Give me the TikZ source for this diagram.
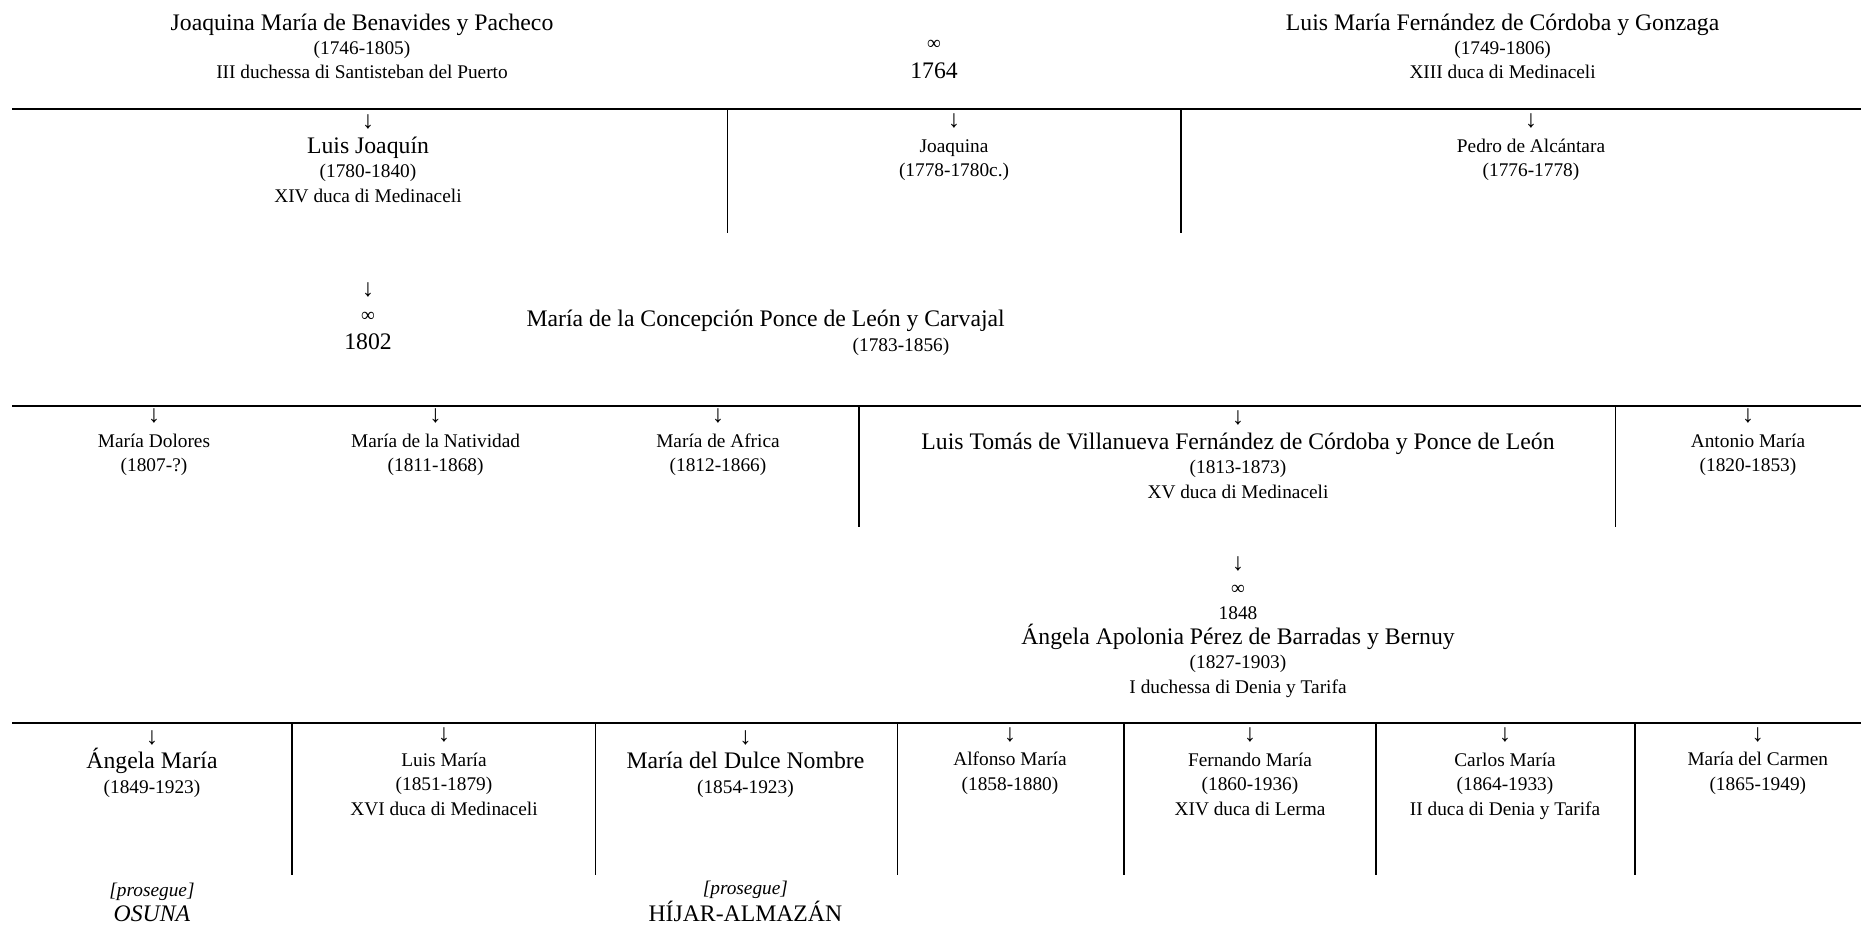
\documentclass[tikz,border=0pt]{standalone}
\usepackage{fontspec}
\setmainfont{Liberation Serif}
\newcommand{\grande}[1]{{\fontsize{13.5}{13.9}\selectfont #1}}
\newcommand{\giu}{{\fontsize{14}{13.9}\selectfont ↓}}

\begin{document}
\begin{tikzpicture}[x=0.02cm, y=-0.02cm]
    % Define styles (nodes sit on the baseline of their last line)
    \tikzstyle{person}=[align=center, inner sep=0pt, anchor=base, font=\fontsize{11}{13.9}\selectfont]
    \tikzstyle{hrule}=[line width=1.6pt]
    \tikzstyle{vrule}=[line width=1pt]

    \useasboundingbox (0,0) rectangle (1861,929);

    % Parents
    \node[person] (joaquina) at (362,79) {\grande{Joaquina María de Benavides y Pacheco}\\(1746-1805)\\III duchessa di Santisteban del Puerto};
    \node[person] (m1764) at (934,78.3) {∞\\[2.6pt]\grande{1764}};
    \node[person] (luismaria) at (1502.6,79) {\grande{Luis María Fernández de Córdoba y Gonzaga}\\(1749-1806)\\XIII duca di Medinaceli};

    % Children
    \draw[hrule] (12,109) -- (1861,109);
    \draw[vrule] (727.6,109) -- (727.6,233);
    \draw[vrule] (1181,109) -- (1181,233);
    \node[person] (luisjoaquin) at (368,202) {\giu\\\grande{Luis Joaquín}\\(1780-1840)\\XIV duca di Medinaceli};
    \node[person] (joaquinaf) at (954,176.5) {\giu\\Joaquina\\(1778-1780c.)};
    \node[person] (pedro) at (1531,176.5) {\giu\\Pedro de Alcántara\\(1776-1778)};

    % Second marriage
    \node[person] (m1802) at (368,349) {\giu\\∞\\[2pt]\grande{1802}};
    \node[person] (concepcion) at (765.6,326.4) {\grande{María de la Concepción Ponce de León y Carvajal}};
    \node[person] (concepciond) at (901,351.2) {(1783-1856)};

    % Grandchildren
    \draw[hrule] (12,406) -- (1861,406);
    \draw[vrule] (859,406) -- (859,527);
    \draw[vrule] (1615.4,406) -- (1615.4,527);
    \node[person] (dolores) at (154,471.5) {\giu\\María Dolores\\(1807-?)};
    \node[person] (natividad) at (435.6,471.5) {\giu\\María de la Natividad\\(1811-1868)};
    \node[person] (africa) at (718,471.5) {\giu\\María de Africa\\(1812-1866)};
    \node[person] (luistomas) at (1238,498) {\giu\\\grande{Luis Tomás de Villanueva Fernández de Córdoba y Ponce de León}\\(1813-1873)\\XV duca di Medinaceli};
    \node[person] (antonio) at (1748,471.5) {\giu\\Antonio María\\(1820-1853)};

    % Third marriage
    \node[person] (m1848) at (1238,619.4) {\giu\\∞\\1848};
    \node[person] (angela) at (1238,693) {\grande{Ángela Apolonia Pérez de Barradas y Bernuy}\\(1827-1903)\\I duchessa di Denia y Tarifa};

    % Great-grandchildren
    \draw[hrule] (12,723) -- (1861,723);
    \draw[vrule] (292,723) -- (292,875);
    \draw[vrule] (595.5,723) -- (595.5,875);
    \draw[vrule] (897.4,723) -- (897.4,875);
    \draw[vrule] (1123.8,723) -- (1123.8,875);
    \draw[vrule] (1375.8,723) -- (1375.8,875);
    \draw[vrule] (1635,723) -- (1635,875);
    \node[person] (angelamaria) at (152,793) {\giu\\\grande{Ángela María}\\(1849-1923)};
    \node[person] (luismariaj) at (444,815) {\giu\\Luis María\\(1851-1879)\\XVI duca di Medinaceli};
    \node[person] (dulcenombre) at (745.4,793) {\giu\\\grande{María del Dulce Nombre}\\(1854-1923)};
    \node[person] (alfonso) at (1010,790) {\giu\\Alfonso María\\(1858-1880)};
    \node[person] (fernando) at (1250,815) {\giu\\Fernando María\\(1860-1936)\\XIV duca di Lerma};
    \node[person] (carlos) at (1505,815) {\giu\\Carlos María\\(1864-1933)\\II duca di Denia y Tarifa};
    \node[person] (carmen) at (1757.8,790) {\giu\\María del Carmen\\(1865-1949)};

    % Lines that continue
    \node[person] (osuna) at (152,921) {\textit{[prosegue]}\\\grande{\textit{OSUNA}}};
    \node[person] (hijar) at (745.4,921) {\textit{[prosegue]}\\\grande{HÍJAR-ALMAZÁN}};
\end{tikzpicture}
\end{document}
